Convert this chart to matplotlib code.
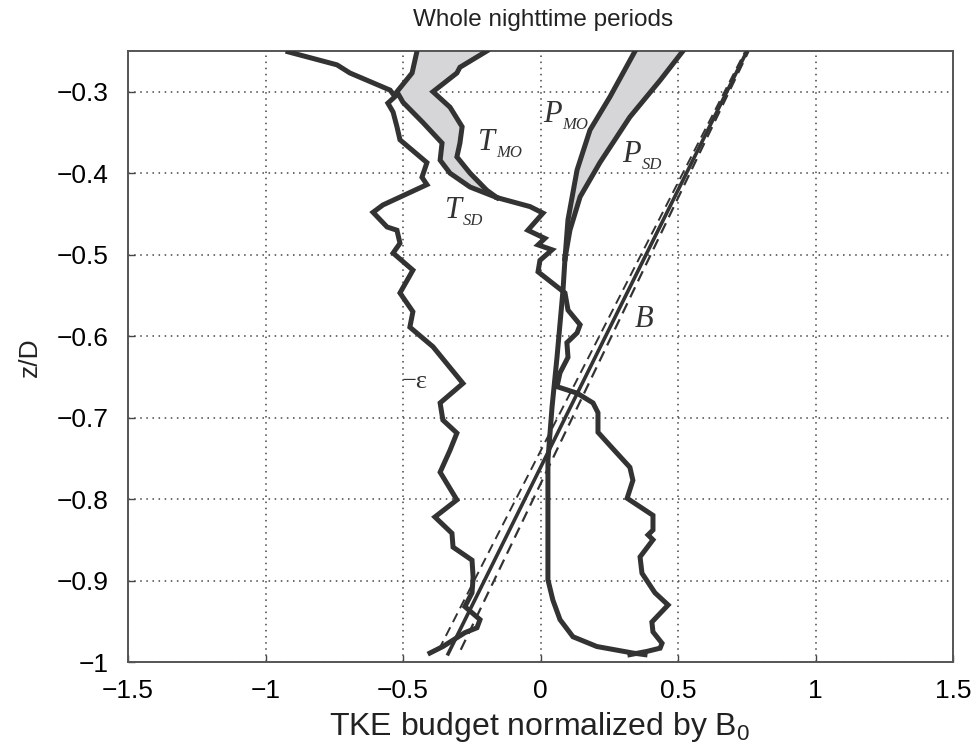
import matplotlib
matplotlib.use("Agg")
import matplotlib.pyplot as plt
import matplotlib.transforms as mtransforms
from matplotlib import font_manager

names = {f.name for f in font_manager.fontManager.ttflist}
SANS = 'Liberation Sans Narrow' if 'Liberation Sans Narrow' in names else 'Liberation Sans'
plt.rcParams['font.family'] = [SANS, 'DejaVu Sans']

# ---------------- data ----------------
# -epsilon profile
eps_x = [-0.918, -0.740, -0.693, -0.547, -0.529, -0.555, -0.536, -0.522, -0.511, -0.413,
         -0.431, -0.413, -0.573, -0.609, -0.558, -0.522, -0.511, -0.536, -0.464, -0.511,
         -0.464, -0.475, -0.391, -0.282, -0.365, -0.355, -0.304, -0.329, -0.365, -0.304,
         -0.384, -0.322, -0.318, -0.249, -0.245, -0.249, -0.275, -0.220, -0.231, -0.275,
         -0.355, -0.402]
eps_z = [-0.251, -0.267, -0.277, -0.298, -0.306, -0.314, -0.325, -0.343, -0.359, -0.387,
         -0.405, -0.414, -0.439, -0.448, -0.466, -0.470, -0.486, -0.498, -0.519, -0.547,
         -0.570, -0.589, -0.613, -0.658, -0.682, -0.703, -0.719, -0.740, -0.767, -0.801,
         -0.822, -0.842, -0.859, -0.875, -0.896, -0.915, -0.932, -0.948, -0.958, -0.964,
         -0.981, -0.989]

# transport, upper part (two estimates)
tsd_x = [-0.449, -0.467, -0.522, -0.500, -0.427, -0.358, -0.365, -0.329, -0.256, -0.158]
tsd_z = [-0.250, -0.277, -0.300, -0.313, -0.338, -0.363, -0.384, -0.400, -0.417, -0.430]
tmo_x = [-0.195, -0.293, -0.304, -0.391, -0.329, -0.285, -0.293, -0.304, -0.256, -0.195, -0.158]
tmo_z = [-0.250, -0.270, -0.277, -0.300, -0.319, -0.343, -0.363, -0.380, -0.400, -0.421, -0.430]
# transport, lower part (both estimates coincide)
t_x = [-0.158, -0.038, 0.009, -0.046, 0.016, -0.009, 0.042, -0.002, -0.009, 0.089,
       0.100, 0.144, 0.133, 0.096, 0.100, 0.071, 0.060, 0.133, 0.191, 0.209,
       0.209, 0.260, 0.325, 0.336, 0.315, 0.409, 0.409, 0.391, 0.409, 0.362,
       0.369, 0.416, 0.464, 0.405, 0.409, 0.442, 0.435, 0.387, 0.325]
t_z = [-0.430, -0.441, -0.449, -0.470, -0.480, -0.488, -0.494, -0.507, -0.521, -0.547,
       -0.568, -0.586, -0.596, -0.608, -0.626, -0.645, -0.662, -0.670, -0.682, -0.694,
       -0.718, -0.737, -0.761, -0.777, -0.799, -0.820, -0.838, -0.844, -0.850, -0.871,
       -0.891, -0.915, -0.930, -0.951, -0.963, -0.977, -0.983, -0.987, -0.991]

# shear production, upper part (two estimates)
pmo_x = [0.344, 0.253, 0.180, 0.133, 0.100, 0.089]
pmo_z = [-0.250, -0.306, -0.347, -0.396, -0.457, -0.505]
psd_x = [0.518, 0.435, 0.325, 0.216, 0.144, 0.107, 0.089]
psd_z = [-0.250, -0.286, -0.331, -0.387, -0.429, -0.470, -0.505]
# shear production, lower part
p_x = [0.089, 0.082, 0.060, 0.042, 0.027, 0.027, 0.027, 0.045, 0.071, 0.118, 0.205, 0.336, 0.380]
p_z = [-0.505, -0.543, -0.626, -0.687, -0.752, -0.838, -0.899, -0.924, -0.948, -0.969, -0.981, -0.989, -0.991]

# buoyancy flux (solid) and two dashed estimates
b_x = [-0.336, 0.751]
b_z = [-0.990, -0.250]
b1_x = [-0.370, 0.745]
b1_z = [-0.985, -0.250]
b2_x = [-0.290, 0.757]
b2_z = [-0.985, -0.250]

xticks = [-1.5, -1, -0.5, 0, 0.5, 1, 1.5]
xticklabels = ['\u22121.5', '\u22121', '\u22120.5', '0', '0.5', '1', '1.5']
yticks = [-1, -0.9, -0.8, -0.7, -0.6, -0.5, -0.4, -0.3]
yticklabels = ['\u22121', '\u22120.9', '\u22120.8', '\u22120.7', '\u22120.6', '\u22120.5', '\u22120.4', '\u22120.3']

# ---------------- figure ----------------
W, H = 973, 755
fig = plt.figure(figsize=(W / 100, H / 100), dpi=100)
ax = fig.add_axes([128 / W, 1 - 662 / H, 825 / W, 611 / H])

LC = '#333333'
LW = 3.6
GRAY = '#d6d6d8'

# shaded regions
ax.fill(tsd_x + tmo_x[::-1], tsd_z + tmo_z[::-1], color=GRAY, lw=0, zorder=1)
ax.fill(pmo_x + psd_x[::-1], pmo_z + psd_z[::-1], color=GRAY, lw=0, zorder=1)

# dashed companions
ax.plot(b1_x, b1_z, color=LC, lw=1.4, ls=(0, (5, 3)), zorder=2)
ax.plot(b2_x, b2_z, color=LC, lw=1.6, ls=(0, (5, 3)), zorder=2)

for xs, zs in [(eps_x, eps_z), (tsd_x, tsd_z), (tmo_x, tmo_z), (t_x, t_z),
               (pmo_x, pmo_z), (psd_x, psd_z), (p_x, p_z)]:
    ax.plot(xs, zs, color=LC, lw=LW, solid_joinstyle='miter', zorder=3)
ax.plot(b_x, b_z, color=LC, lw=2.6, zorder=3)

ax.set_xlim(-1.5, 1.5)
ax.set_ylim(-1, -0.25)
ax.set_xticks(xticks)
ax.set_xticklabels(xticklabels)
ax.set_yticks(yticks)
ax.set_yticklabels(yticklabels)
ax.grid(True, ls=(0, (1, 3)), color='#444444', lw=1.1)
ax.set_axisbelow(True)
ax.tick_params(direction='in', length=5, width=1, labelsize=19, color='#444444')
ax.tick_params(axis='x', pad=12)
ax.tick_params(axis='y', pad=14)
for s in ax.spines.values():
    s.set_color('#555555')
    s.set_linewidth(1.4)

# labels on curves
SERIF = 'Liberation Serif'


def label(x, z, main, sub=None, size=22, subsize=12, dx=13, dy=-5):
    ax.text(x, z, main, fontsize=size, family=SERIF, style='italic', color=LC,
            ha='left', va='baseline', zorder=5)
    if sub:
        tr = mtransforms.offset_copy(ax.transData, fig=fig, x=dx, y=dy, units='points')
        ax.text(x, z, sub, fontsize=subsize, family=SERIF, style='italic', color=LC,
                ha='left', va='baseline', transform=tr, zorder=5)


label(-0.227, -0.371, 'T', 'MO')
label(-0.347, -0.455, 'T', 'SD')
label(0.010, -0.337, 'P', 'MO', dx=14)
label(0.296, -0.386, 'P', 'SD', dx=14)
label(0.344, -0.589, 'B')
ax.text(-0.504, -0.664, '\u2212\u03b5', fontsize=19, family=SERIF, color=LC,
        ha='left', va='baseline', zorder=5)

fig.text(543 / W, 1 - 20 / H, 'Whole nighttime periods', fontsize=17.5, ha='center', va='center', color='#222222')
fig.text(540 / W, 1 - 727 / H, 'TKE budget normalized by B$_\\mathregular{0}$', fontsize=23,
         ha='center', va='center', color='#222222')
fig.text(30 / W, 1 - 357 / H, 'z/D', fontsize=19, rotation=90, ha='center', va='center', color='#222222')

fig.savefig('out.png', dpi=100)
